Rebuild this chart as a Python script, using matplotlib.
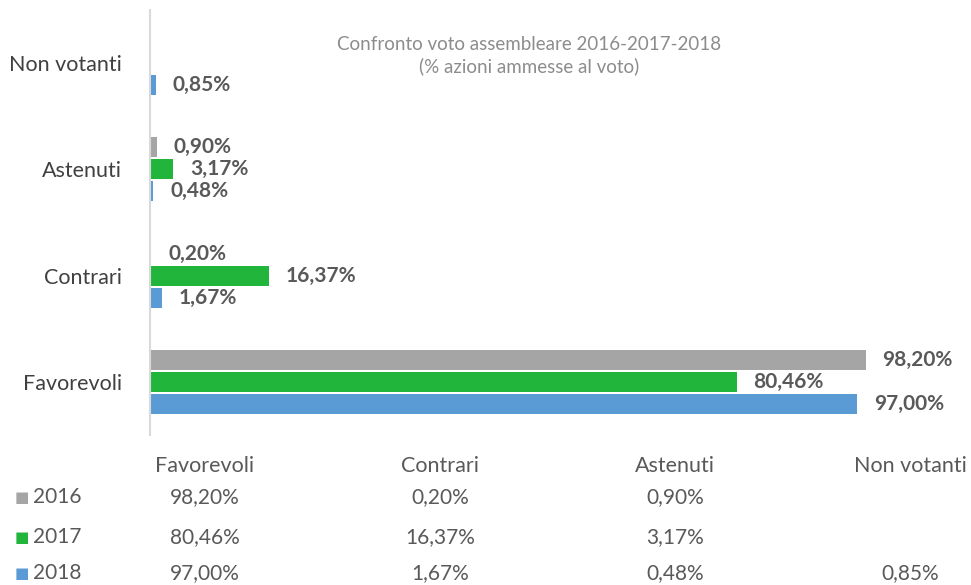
import matplotlib.pyplot as plt
import numpy as np

plt.rcParams['font.family'] = ['Lato', 'DejaVu Sans']

# dati
categorie = ['Favorevoli', 'Contrari', 'Astenuti', 'Non votanti']
anni = ['2016', '2017', '2018']
v2016 = [98.20, 0.20, 0.90, None]
v2017 = [80.46, 16.37, 3.17, None]
v2018 = [97.00, 1.67, 0.48, 0.85]
colori = ['#a5a5a5', '#22b53c', '#5b9bd5']

serie = [v2016, v2017, v2018]
testo_grigio = '#595959'


def fmt(v):
    return f'{v:.2f}'.replace('.', ',') + '%'


fig = plt.figure(figsize=(9.71, 5.85), dpi=100)
ax = fig.add_axes([150 / 971, 150 / 585, 729 / 971, 425 / 585])

y = np.arange(len(categorie))
h = 0.19
passo = 0.207
offs = [passo, 0, -passo]

for valori, col, off in zip(serie, colori, offs):
    for i, v in enumerate(valori):
        if v is None:
            continue
        ax.barh(y[i] + off, v, height=h, color=col)
        ax.annotate(fmt(v), (v, y[i] + off), xytext=(12, 0), textcoords='offset points',
                    ha='left', va='center', fontsize=15, fontweight='bold', color=testo_grigio)

ax.set_xlim(0, 100)
ax.set_ylim(-0.5, 3.5)
ax.set_yticks(y)
ax.set_yticklabels(categorie, fontsize=15.5, color='#404040')
ax.tick_params(axis='y', length=0, pad=20)
ax.set_xticks([])
for s in ['top', 'right', 'bottom']:
    ax.spines[s].set_visible(False)
ax.spines['left'].set_color('#d9d9d9')
ax.spines['left'].set_linewidth(1.5)

ax.text(0.52, 0.94, 'Confronto voto assembleare 2016-2017-2018\n(% azioni ammesse al voto)',
        transform=ax.transAxes, ha='center', va='top', fontsize=13.5, color='#8c8c8c',
        linespacing=1.3)

# tabella sotto il grafico
col_x = [205, 440, 675, 910]
riga_y = [466, 497, 537, 573]
for cx, cat in zip(col_x, categorie):
    fig.text(cx / 971, 1 - riga_y[0] / 585, cat, ha='center', va='center',
             fontsize=15.5, color=testo_grigio)
for r, (anno, valori, col) in enumerate(zip(anni, serie, colori)):
    yy = 1 - riga_y[r + 1] / 585
    fig.text(15 / 971, yy, '■', ha='left', va='center', fontsize=11, color=col,
             family='DejaVu Sans')
    fig.text(33 / 971, yy, anno, ha='left', va='center', fontsize=15, color=testo_grigio)
    for cx, v in zip(col_x, valori):
        if v is None:
            continue
        fig.text(cx / 971, yy, fmt(v), ha='center', va='center', fontsize=15, color=testo_grigio)

fig.savefig('out.png', dpi=100)
